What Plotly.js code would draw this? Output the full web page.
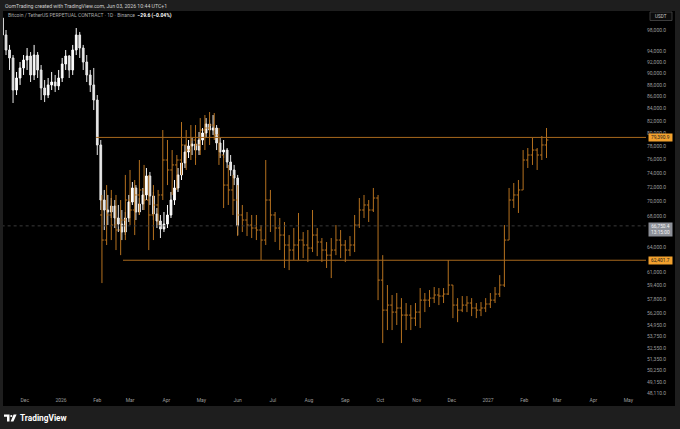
<!DOCTYPE html>
<html><head><meta charset="utf-8">
<script src="https://cdn.plot.ly/plotly-3.0.1.min.js"></script>
<style>html,body{margin:0;padding:0;background:#1e1e1e;}#chart{width:680px;height:429px;}</style>
</head><body><div id="chart"></div>
<script>
// ---- real price (white candles), 3-day bars ----
const whiteDates = ['2025-11-12','2025-11-15','2025-11-18','2025-11-21','2025-11-24','2025-11-27','2025-11-30','2025-12-03','2025-12-06','2025-12-09','2025-12-12','2025-12-15','2025-12-18','2025-12-21','2025-12-24','2025-12-27','2025-12-30','2026-01-02','2026-01-05','2026-01-08','2026-01-11','2026-01-14','2026-01-17','2026-01-20','2026-01-23','2026-01-26','2026-01-29','2026-02-01','2026-02-04','2026-02-07','2026-02-10','2026-02-13','2026-02-16','2026-02-19','2026-02-22','2026-02-25','2026-02-28','2026-03-03','2026-03-06','2026-03-09','2026-03-12','2026-03-15','2026-03-18','2026-03-21','2026-03-24','2026-03-27','2026-03-30','2026-04-02','2026-04-05','2026-04-08','2026-04-11','2026-04-14','2026-04-17','2026-04-20','2026-04-23','2026-04-26','2026-04-29','2026-05-02','2026-05-05','2026-05-08','2026-05-11','2026-05-14','2026-05-17','2026-05-20','2026-05-23','2026-05-26','2026-05-29','2026-06-01'];
const whiteOpen = [100320,97050,94230,92770,87120,89200,90970,92400,93130,89730,93310,90610,87470,86270,87990,88500,87820,89200,91680,93130,90610,94230,97050,94600,92040,89730,87990,85430,78220,70220,68860,68590,69400,67790,66990,65950,67790,69950,71900,68590,69680,70920,73610,70780,68320,67390,66340,66990,68190,70220,71900,73760,75510,77150,78070,78370,77450,78990,80080,81500,80550,80870,78530,77150,77450,75650,74480,73320];
const whiteHigh = [101120,98000,95170,93310,90260,92040,93310,94600,93860,95170,93860,91500,88850,89200,90260,89730,90610,92770,94230,93310,95170,98380,97620,95170,93310,90610,90970,86270,78990,71620,70920,70500,70220,69540,68860,68590,70920,72740,72310,70500,71900,74770,74190,71340,69130,68190,68590,69540,71340,73030,74770,76250,78220,78990,79300,78990,80240,80870,82460,82140,82950,81340,79300,78990,77760,76700,75220,73760];
const whiteLow = [96100,93310,90610,84930,86270,87990,89730,90610,88500,88850,89200,85430,85090,85760,87120,86780,87120,88500,90610,89200,89730,93310,92770,90610,88500,86780,83770,76700,68860,66210,66860,67790,66470,65950,64920,65560,67260,69540,67520,68190,68860,70220,69540,67520,66470,65180,65950,66470,67790,69540,71340,73030,74770,76250,76700,76250,76700,78220,79300,79300,79770,77450,76250,76250,74770,73610,72310,65560];
const whiteClose = [97050,94230,92770,87120,89200,90970,92400,93130,89730,93310,90610,87470,86270,87990,88500,87820,89200,91680,93130,90610,94230,97050,94600,92040,89730,87990,85430,78220,70220,68860,68590,69400,67790,66990,65950,67790,69950,71900,68590,69680,70920,73610,70780,68320,67390,66340,66990,68190,70220,71900,73760,75510,77150,78070,78370,77450,78990,80080,81500,80550,80870,78530,77150,77450,75650,74480,73320,66750];

// ---- projected fractal (orange bars), 4-day bars ----
const orangeDates = ['2026-02-05','2026-02-09','2026-02-13','2026-02-17','2026-02-21','2026-02-25','2026-03-01','2026-03-05','2026-03-09','2026-03-13','2026-03-17','2026-03-21','2026-03-25','2026-03-29','2026-04-02','2026-04-06','2026-04-10','2026-04-14','2026-04-18','2026-04-22','2026-04-26','2026-04-30','2026-05-04','2026-05-08','2026-05-12','2026-05-16','2026-05-20','2026-05-24','2026-05-28','2026-06-01','2026-06-05','2026-06-09','2026-06-13','2026-06-17','2026-06-21','2026-06-25','2026-06-29','2026-07-03','2026-07-07','2026-07-11','2026-07-15','2026-07-19','2026-07-23','2026-07-27','2026-07-31','2026-08-04','2026-08-08','2026-08-12','2026-08-16','2026-08-20','2026-08-24','2026-08-28','2026-09-01','2026-09-05','2026-09-09','2026-09-13','2026-09-17','2026-09-21','2026-09-25','2026-09-29','2026-10-03','2026-10-07','2026-10-11','2026-10-15','2026-10-19','2026-10-23','2026-10-27','2026-10-31','2026-11-04','2026-11-08','2026-11-12','2026-11-16','2026-11-20','2026-11-24','2026-11-28','2026-12-02','2026-12-06','2026-12-10','2026-12-14','2026-12-18','2026-12-22','2026-12-26','2026-12-30','2027-01-03','2027-01-07','2027-01-11','2027-01-15','2027-01-19','2027-01-23','2027-01-27','2027-01-31','2027-02-04','2027-02-08','2027-02-12','2027-02-16','2027-02-20'];
const orangeOpen = [68190,64920,68190,66860,66210,67520,70220,68860,70920,71620,70220,68190,69540,70920,75950,74480,75220,75950,78220,77450,78990,78220,80550,80870,81340,79770,76700,72310,71620,70220,68190,67520,66860,66470,66210,64920,70220,68190,66470,65560,64290,63660,64290,64920,64290,63910,65560,64670,63660,63030,63660,64920,64290,63660,64290,66860,68860,69540,68860,70500,60020,56590,57150,56370,56820,56040,56040,55710,56370,57710,57710,57940,58290,58170,58400,59440,57150,56590,57150,57380,56820,56590,56820,57270,57710,58400,59440,64920,70220,70920,71620,75950,76700,77450,76700,78220];
const orangeHigh = [70920,72310,71620,70920,70220,73760,74480,73030,75950,75220,73760,72310,71620,80550,78990,77450,76700,81820,80550,81340,81340,82460,82950,83440,83280,80870,76700,75220,73760,72310,69540,68590,68190,68190,66860,75950,71620,68590,67790,67260,65560,66470,68460,65950,66210,68860,66470,65180,64670,65180,66860,66210,64920,65430,68190,70500,70920,70220,71900,70920,63030,59440,58290,58520,57940,57380,57150,57380,59090,58520,58860,59210,59090,59090,62430,59440,57940,58170,58170,57940,57380,57490,57940,58520,59210,60610,66860,71900,72600,73030,77450,77760,79300,77760,79610,80870];
const orangeLow = [59670,64290,64920,63660,63030,64920,66860,65560,68190,68860,63660,64920,66860,70220,72310,70920,71620,73760,74480,75950,75220,76700,77450,78220,78990,75220,69130,69540,68190,65430,65950,65430,65180,64920,62430,64290,65950,64670,63660,61460,61210,62430,62430,62670,62180,63410,62910,62180,61460,60260,63030,62670,62180,62910,63410,66470,67790,67260,68590,57710,53050,54420,54420,54960,53050,54420,54420,54850,54640,56370,56930,57380,57150,57380,58290,55710,55270,56370,56370,55930,55710,55930,56370,56820,57380,58060,59210,64920,69130,68460,71620,74770,75220,74480,75950,76250];
const orangeClose = [64920,68190,66860,66210,67520,70220,68860,70920,71620,70220,68190,69540,70920,75950,74480,75220,75950,78220,77450,78990,78220,80550,80870,81340,79770,76700,72310,71620,70220,68190,67520,66860,66470,66210,64920,70220,68190,66470,65560,64290,63660,64290,64920,64290,63910,65560,64670,63660,63030,63660,64920,64290,63660,64290,66860,68860,69540,68860,70500,60020,56590,57150,56370,56820,56040,56040,55710,56370,57710,57710,57940,58290,58170,58400,59440,57150,56590,57150,57380,56820,56590,56820,57270,57710,58400,59440,64920,70220,70920,71620,75950,76700,77450,76700,78220,78990];

// ---- horizontal levels ----
const resistanceLevel = 79390.9;
const resistanceStart = '2026-01-31';
const supportLevel = 62401.7;
const supportStart = '2026-02-23';
const lastPrice = 66750.4;
const lastPriceText = '66,750.4';
const countdownText = '13:15:00';

// ---- axis ticks ----
const priceTickVals = [98000,94000,92000,90000,88000,86000,84000,82000,80000,78000,76000,74000,72000,70000,68000,64000,61000,59400,57800,56200,54950,53750,52550,51350,50250,49150,48110];
const priceTickText = ['98,000.0','94,000.0','92,000.0','90,000.0','88,000.0','86,000.0','84,000.0','82,000.0','80,000.0','78,000.0','76,000.0','74,000.0','72,000.0','70,000.0','68,000.0','64,000.0','61,000.0','59,400.0','57,800.0','56,200.0','54,950.0','53,750.0','52,550.0','51,350.0','50,250.0','49,150.0','48,110.0'];
const monthTickVals = ['2025-12-01','2026-01-01','2026-02-01','2026-03-01','2026-04-01','2026-05-01','2026-06-01','2026-07-01','2026-08-01','2026-09-01','2026-10-01','2026-11-01','2026-12-01','2027-01-01','2027-02-01','2027-03-01','2027-04-01','2027-05-01'];
const monthTickText = ['Dec','2026','Feb','Mar','Apr','May','Jun','Jul','Aug','Sep','Oct','Nov','Dec','2027','Feb','Mar','Apr','May'];

const headerText = 'OomTrading created with TradingView.com, Jun 03, 2026 10:44 UTC+1';
const symbolText = 'Bitcoin / TetherUS PERPETUAL CONTRACT · 1D · Binance';
const changeText = '−29.6 (−0.04%)';

// pixel -> paper helpers (layout only)
const L = 3, R = 646, T = 11, B = 396;
const PX = x => (x - L) / (R - L);
const PY = y => (B - y) / (B - T);
const fmt = v => v.toLocaleString('en-US', {minimumFractionDigits:1, maximumFractionDigits:1});

const ORANGE = '#b5711f';
const traces = [
  {type:'scatter', mode:'lines', x:['2025-11-01','2027-12-31'], y:[lastPrice,lastPrice],
   line:{color:'#3a3a3a', width:1, dash:'dot'}, hoverinfo:'skip'},
  {type:'scatter', mode:'lines', x:[resistanceStart,'2027-12-31'], y:[resistanceLevel,resistanceLevel],
   line:{color:'#a9691d', width:1}, hoverinfo:'skip'},
  {type:'scatter', mode:'lines', x:[supportStart,'2027-12-31'], y:[supportLevel,supportLevel],
   line:{color:'#a9691d', width:1}, hoverinfo:'skip'},
  {type:'ohlc', x:orangeDates, open:orangeOpen, high:orangeHigh, low:orangeLow, close:orangeClose,
   increasing:{line:{color:ORANGE, width:1}}, decreasing:{line:{color:ORANGE, width:1}}, tickwidth:0.4},
  {type:'candlestick', x:whiteDates, open:whiteOpen, high:whiteHigh, low:whiteLow, close:whiteClose,
   increasing:{line:{color:'#ffffff', width:1}, fillcolor:'#ffffff'},
   decreasing:{line:{color:'#e6e6e6', width:1}, fillcolor:'#e6e6e6'}}
];

const tickFont = {family:'Roboto, Liberation Sans, sans-serif', size:5, color:'#9c9c9c'};
const logoPath = (pts) => 'M' + pts.map(p => PX(p[0]) + ',' + PY(p[1])).join(' L') + ' Z';

const layout = {
  width:680, height:429,
  margin:{l:L, r:680-R, t:T, b:429-B, pad:0},
  paper_bgcolor:'#1e1e1e', plot_bgcolor:'#000000',
  showlegend:false,
  font:{family:'Roboto, Liberation Sans, sans-serif'},
  xaxis:{type:'date', range:['2025-11-12 10:00','2027-05-16 01:00'], tickvals:monthTickVals, ticktext:monthTickText,
    showgrid:false, zeroline:false, showline:false, ticks:'', tickfont:tickFont, rangeslider:{visible:false}, fixedrange:true},
  yaxis:{type:'log', side:'right', range:[4.679604,5.007403], tickvals:priceTickVals, ticktext:priceTickText,
    showgrid:false, zeroline:false, showline:false, ticks:'', tickfont:tickFont, fixedrange:true},
  shapes:[
    {type:'rect', xref:'paper', yref:'paper', x0:0, x1:PX(675), y0:PY(406), y1:1, fillcolor:'#000000', line:{width:0}, layer:'below'},
    {type:'rect', xref:'paper', yref:'paper', x0:PX(650), x1:PX(672), y0:PY(20.5), y1:PY(12), fillcolor:'#0c0c0c', line:{color:'#4a4a4a', width:0.8}},
    {type:'path', xref:'paper', yref:'paper', path:logoPath([[4,414.5],[9.5,414.5],[9.5,421.5],[7,421.5],[7,416.8],[4,416.8]]), fillcolor:'#ffffff', line:{width:0}},
    {type:'circle', xref:'paper', yref:'paper', x0:PX(10.2), x1:PX(12.4), y0:PY(417.1), y1:PY(414.9), fillcolor:'#ffffff', line:{width:0}},
    {type:'path', xref:'paper', yref:'paper', path:logoPath([[13.6,414.5],[16.6,414.5],[13.4,421.5],[10.6,421.5]]), fillcolor:'#ffffff', line:{width:0}}
  ],
  annotations:[
    {xref:'paper', yref:'paper', x:PX(3), y:PY(5.5), xanchor:'left', yanchor:'middle', showarrow:false,
     text:headerText, font:{size:5.2, color:'#cfcfcf'}},
    {xref:'paper', yref:'paper', x:PX(6), y:PY(15.5), xanchor:'left', yanchor:'middle', showarrow:false,
     text:symbolText + '  <b><span style="color:#ffffff">' + changeText + '</span></b>', font:{size:5, color:'#a9a9a9'}},
    {xref:'paper', yref:'paper', x:PX(661), y:PY(16.3), xanchor:'center', yanchor:'middle', showarrow:false,
     text:'USDT', font:{size:4.6, color:'#c8c8c8'}},
    {xref:'paper', yref:'y', x:PX(648), y:Math.log10(resistanceLevel), xanchor:'left', yanchor:'middle', showarrow:false,
     text:fmt(resistanceLevel), bgcolor:'#f2a12e', width:22, height:6, borderpad:0.3, font:{size:4.8, color:'#1a1a1a'}},
    {xref:'paper', yref:'y', x:PX(648), y:Math.log10(supportLevel), xanchor:'left', yanchor:'middle', showarrow:false,
     text:fmt(supportLevel), bgcolor:'#f2a12e', width:22, height:6, borderpad:0.3, font:{size:4.8, color:'#1a1a1a'}},
    {xref:'paper', yref:'y', x:PX(648), y:Math.log10(lastPrice)-0.0035, xanchor:'left', yanchor:'middle', showarrow:false,
     text:lastPriceText + '<br>' + countdownText, bgcolor:'#8d9098', width:22, height:12, borderpad:0.5, font:{size:4.8, color:'#f4f4f4'}},
    {xref:'paper', yref:'paper', x:PX(17.5), y:PY(418), xanchor:'left', yanchor:'middle', showarrow:false,
     text:'<b>TradingView</b>', font:{size:8.3, color:'#ffffff'}}
  ]
};

Plotly.newPlot('chart', traces, layout, {staticPlot:true, displayModeBar:false});
</script>
</body></html>
